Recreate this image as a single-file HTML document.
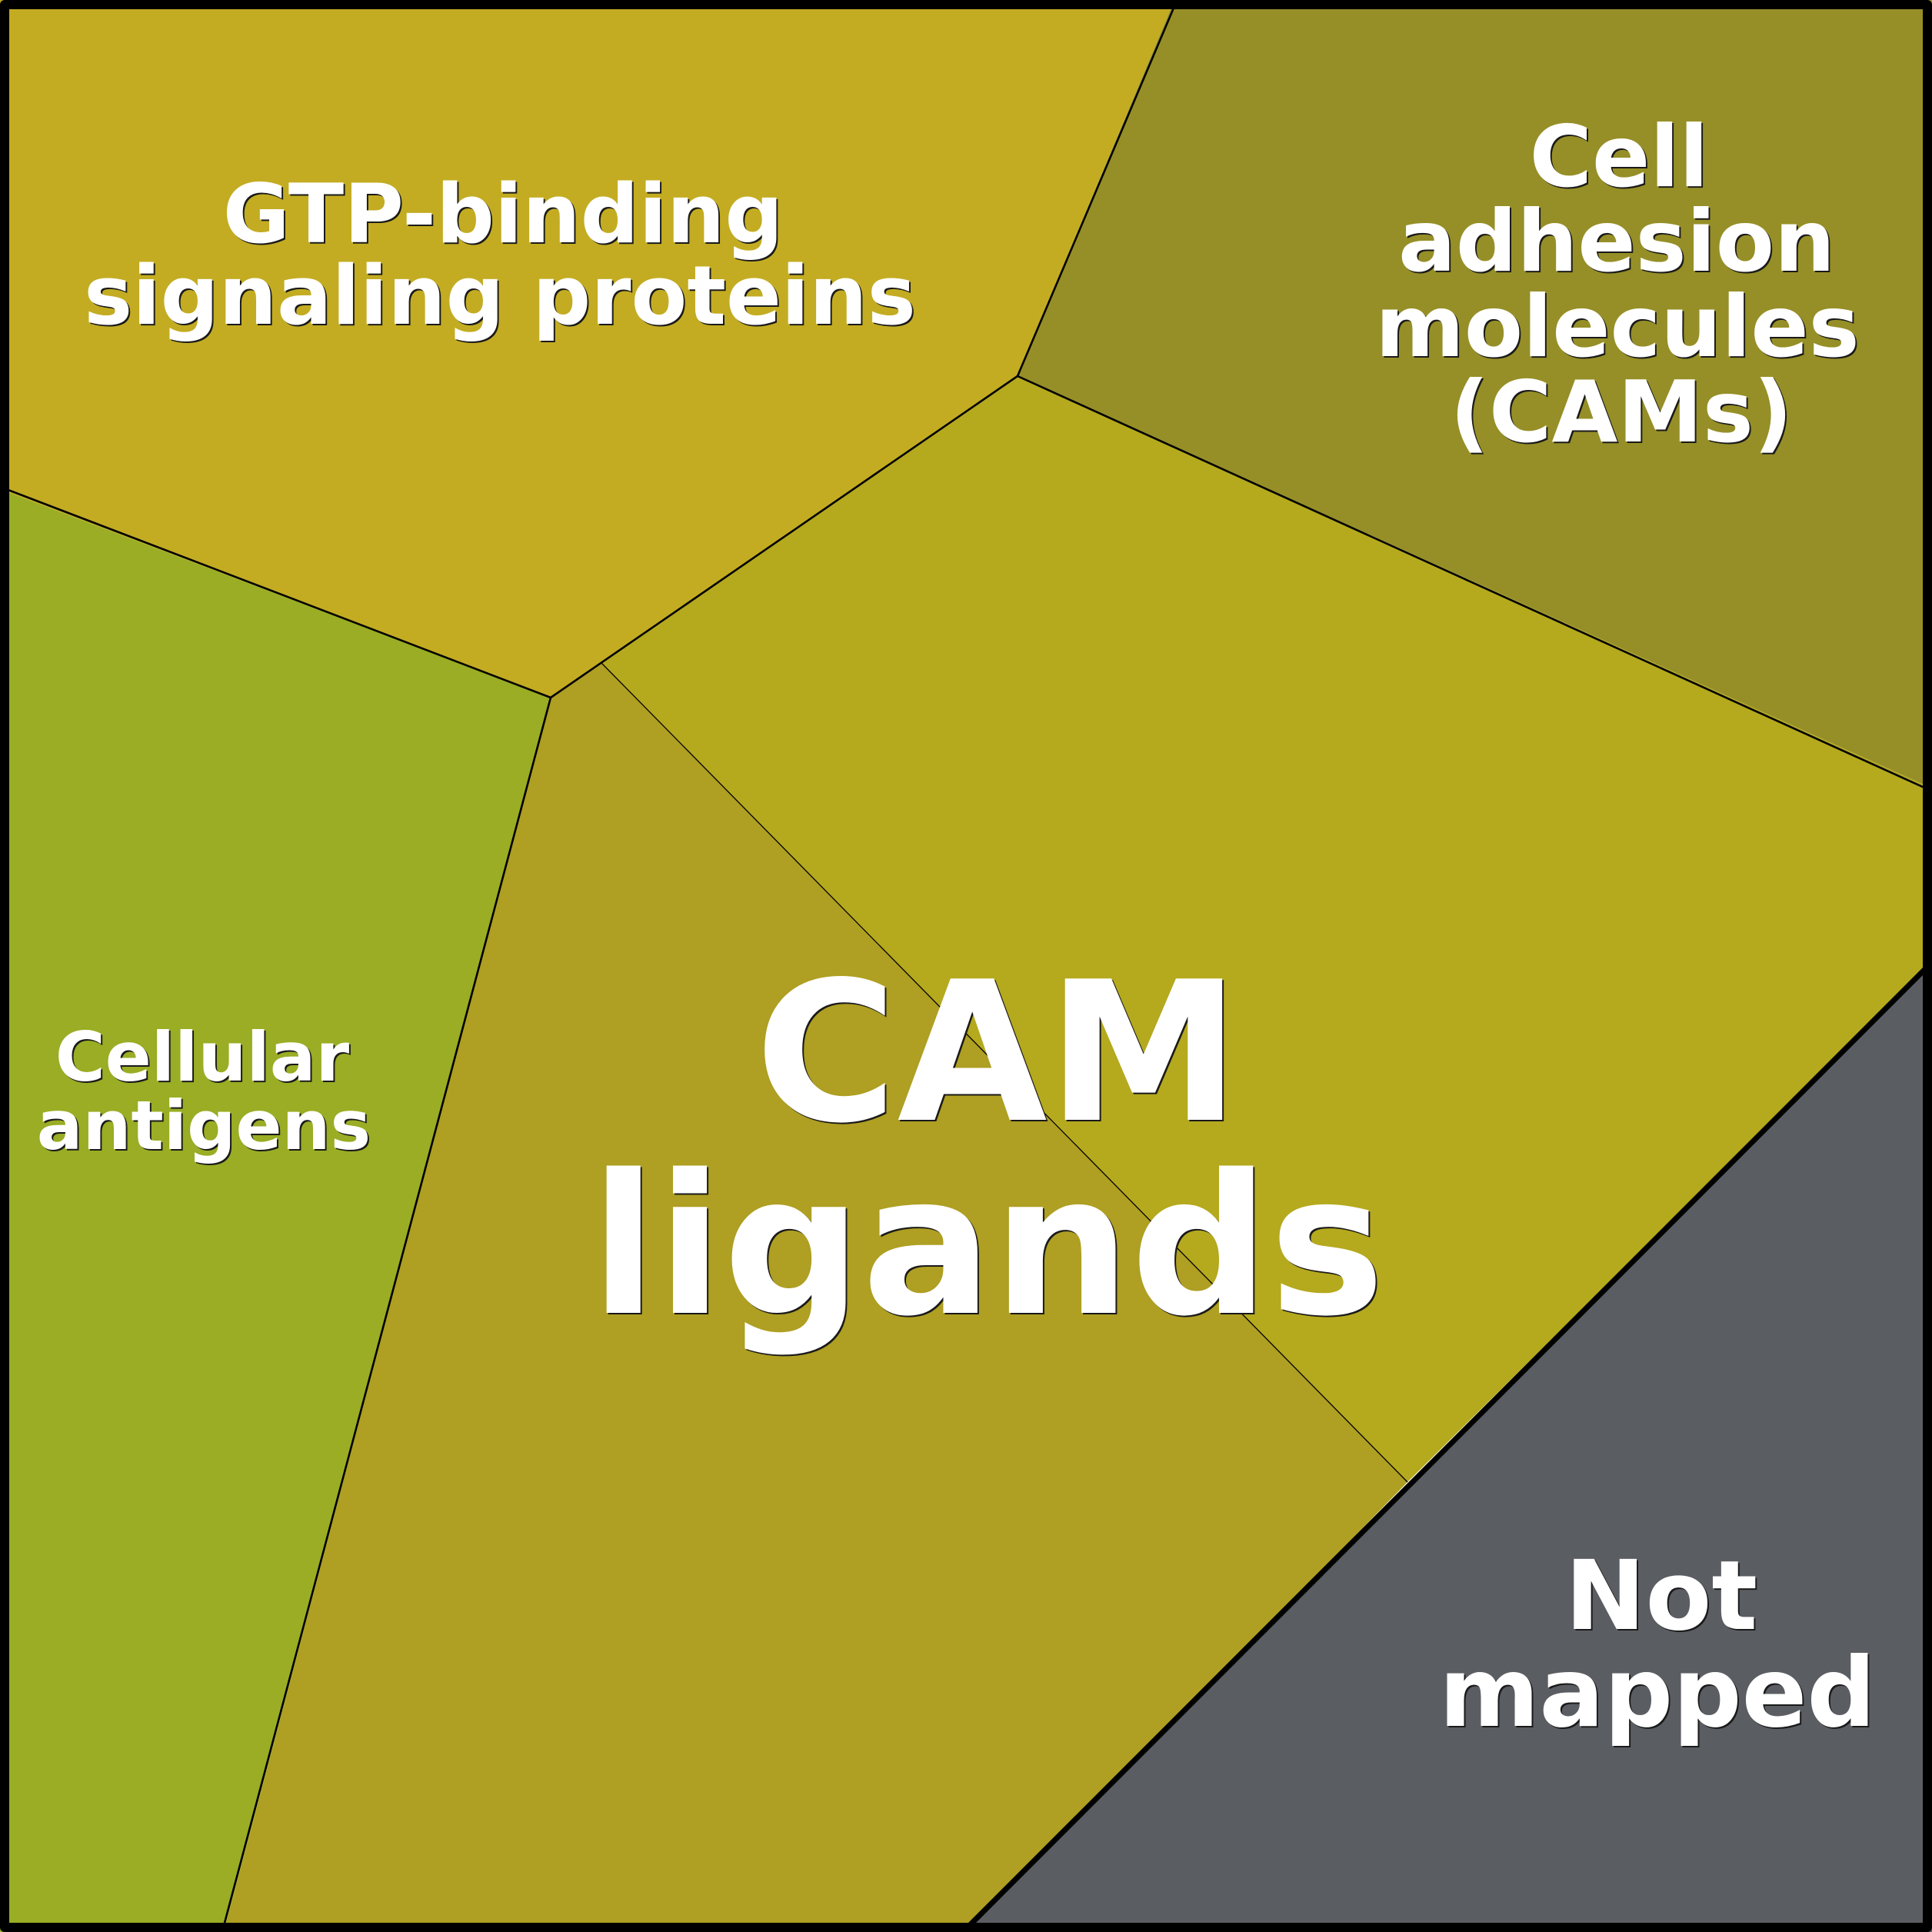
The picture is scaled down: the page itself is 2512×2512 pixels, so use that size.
<!DOCTYPE html>
<html>
<head>
<meta charset="utf-8">
<style>
  html, body { margin: 0; padding: 0; background: #fff; }
  svg { display: block; }
  text { font-family: "DejaVu Sans", "Liberation Sans", sans-serif; font-weight: bold; text-anchor: middle; }
  .sh { fill: #1a1a1a; }
  .fg { fill: #ffffff; }
</style>
</head>
<body>
<svg width="2512" height="2512" viewBox="0 0 2512 2512" xmlns="http://www.w3.org/2000/svg">
  <!-- regions -->
  <polygon points="0,0 1527,0 1323,489 716,907 0,636" fill="#C3AC22"/>
  <polygon points="1527,0 2512,0 2512,1025 1323,489" fill="#968F27"/>
  <polygon points="782,862 1323,489 2512,1025 2512,1251 1830,1927" fill="#B5A91E"/>
  <polygon points="716,907 782,862 1830,1927 1259,2512 291,2512" fill="#AF9F22"/>
  <polygon points="0,636 716,907 291,2512 0,2512" fill="#9AAD24"/>
  <polygon points="2512,1251 2512,2512 1251,2512" fill="#5A5D62"/>

  <!-- borders -->
  <g stroke="#000" fill="none" stroke-linejoin="round">
    <polyline points="1527,8 1323,489 716,907 8,636" stroke-width="2.6"/>
    <line x1="1323" y1="489" x2="2504" y2="1025" stroke-width="2.6"/>
    <line x1="716" y1="907" x2="291" y2="2504" stroke-width="2.6"/>
    <line x1="782" y1="862" x2="1830" y2="1927" stroke-width="1.3"/>
    <line x1="2504" y1="1259" x2="1260" y2="2504" stroke-width="7"/>
    <rect x="6" y="6" width="2500" height="2500" stroke-width="12"/>
  </g>

  <!-- GTP-binding signaling proteins -->
  <g font-size="106">
    <text class="sh" x="656" y="317">GTP-binding</text>
    <text class="sh" x="652" y="423">signaling proteins</text>
    <text class="fg" x="654" y="315">GTP-binding</text>
    <text class="fg" x="650" y="421">signaling proteins</text>
  </g>

  <!-- Cell adhesion molecules -->
  <g font-size="111">
    <text class="sh" x="2107" y="244">Cell</text>
    <text class="sh" x="2104" y="354">adhesion</text>
    <text class="sh" x="2105" y="465">molecules</text>
    <text class="sh" x="2110" y="576">(CAMs)</text>
    <text class="fg" x="2105" y="242">Cell</text>
    <text class="fg" x="2102" y="352">adhesion</text>
    <text class="fg" x="2103" y="463">molecules</text>
    <text class="fg" x="2108" y="574">(CAMs)</text>
  </g>

  <!-- CAM ligands -->
  <g font-size="252">
    <text class="sh" x="1299" y="1458">CAM</text>
    <text class="sh" x="1286" y="1709">ligands</text>
    <text class="fg" x="1297" y="1456">CAM</text>
    <text class="fg" x="1284" y="1707">ligands</text>
  </g>

  <!-- Cellular antigens -->
  <g font-size="88.5">
    <text class="sh" x="265" y="1407">Cellular</text>
    <text class="sh" x="267" y="1496">antigens</text>
    <text class="fg" x="263" y="1405">Cellular</text>
    <text class="fg" x="265" y="1494">antigens</text>
  </g>

  <!-- Not mapped -->
  <g font-size="125">
    <text class="sh" x="2162" y="2120">Not</text>
    <text class="sh" x="2157" y="2246">mapped</text>
    <text class="fg" x="2160" y="2118">Not</text>
    <text class="fg" x="2155" y="2244">mapped</text>
  </g>
</svg>
</body>
</html>
